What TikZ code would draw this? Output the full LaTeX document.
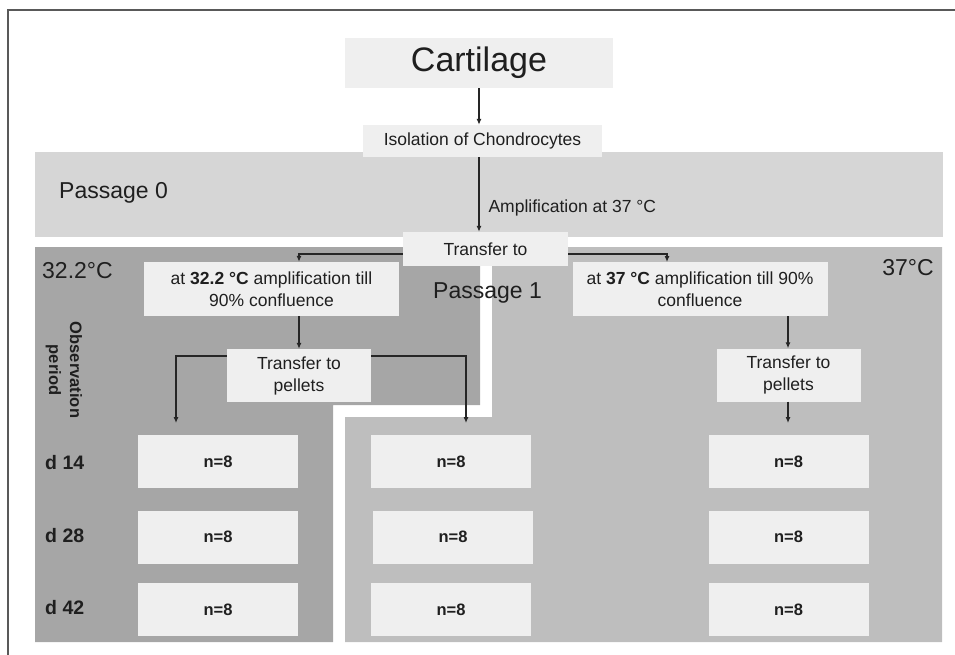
\documentclass[tikz,border=0pt]{standalone}
\usepackage{fontspec}
\setmainfont{Liberation Sans}
\usetikzlibrary{arrows.meta}
\definecolor{boxgrey}{HTML}{EFEFEF}
\definecolor{bandgrey}{HTML}{D6D6D6}
\definecolor{warmdark}{HTML}{A6A6A6}
\definecolor{warmlight}{HTML}{BEBEBE}
\newcommand{\cartfont}{\fontsize{34}{40}\selectfont}
\newcommand{\labfont}{\fontsize{23}{27}\selectfont}
\newcommand{\boxfont}{\fontsize{17.5}{22}\selectfont}
\newcommand{\dayfont}{\fontsize{19.5}{23}\selectfont\bfseries}
\newcommand{\nfont}{\fontsize{16.5}{20}\selectfont\bfseries}
\tikzstyle{blockstyle}=[fill=boxgrey, inner sep=0pt, align=center,
  text=black!88, font=\boxfont]
\tikzstyle{tempbox} = [blockstyle, minimum width=255pt, minimum height=54pt]
\tikzstyle{pelletbox} = [blockstyle, minimum width=144pt, minimum height=53pt]
\tikzstyle{nbox} = [blockstyle, minimum width=160pt, minimum height=53pt, font=\nfont]
\tikzstyle{label} = [inner sep=0pt, text=black!88, font=\boxfont]
\tikzset{
    line/.style={
        draw, line width=1.1pt, color=black!85,
        -{Latex[length=6pt,width=5pt]}}}
\newcommand{\sample}[1]{node (n#1) [nbox] {n=8}}

\begin{document}
\begin{tikzpicture}[x=1pt,y=-1pt]
\useasboundingbox (0,0) rectangle (955,655);
% Draw background panels
\fill[white] (35,28) rectangle (945,152);
\fill[bandgrey] (35,152) rectangle (943,237);
\fill[warmdark] (35,247) -- (480,247) -- (480,405) -- (333,405)
  -- (333,642) -- (35,642) -- cycle;
\fill[warmlight] (492,247) -- (942,247) -- (942,642) -- (345,642)
  -- (345,417) -- (492,417) -- cycle;
\draw[line width=1.5pt, color=black!65] (8,655) -- (8,10) -- (955,10);

% Draw region labels
\node (pass0) [label, anchor=west, font=\labfont] at (59,193) {Passage 0};
\node (pass1) [label, anchor=west, font=\labfont] at (433,293) {Passage 1};
\node (temp32) [label, anchor=west, font=\labfont] at (42,271) {32.2°C};
\node (temp37) [label, anchor=east, font=\labfont] at (934,268) {37°C};
\node (obs) [label, rotate=-90, align=center,
  font={\fontsize{16.5}{21}\selectfont\bfseries}] at (64,370) {Observation\\period};
\node (d14) [label, anchor=west, font=\dayfont] at (45,463) {d 14};
\node (d28) [label, anchor=west, font=\dayfont] at (45,536) {d 28};
\node (d42) [label, anchor=west, font=\dayfont] at (45,608) {d 42};

% Draw diagram elements
\path (479,63) node (cart) [blockstyle, minimum width=268pt,
  minimum height=50pt, font=\cartfont] {Cartilage};
\path (482.5,141) node (iso) [blockstyle, minimum width=239pt,
  minimum height=32pt] {Isolation of Chondrocytes};
\path (485.5,249) node (trans) [blockstyle, minimum width=165pt,
  minimum height=34pt] {Transfer to};
\path (271.5,289) node (b32) [tempbox] {at \textbf{32.2 °C} amplification till\\90\% confluence};
\path (700,289) node (b37) [tempbox] {at \textbf{37 °C} amplification till 90\%\\confluence};
\path (299,375.5) node (pel32) [pelletbox] {Transfer to\\pellets};
\path (788.5,375) node (pel37) [pelletbox] {Transfer to\\pellets};

\path (218,461.5) \sample{11};
\path (218,537)   \sample{12};
\path (218,609.5) \sample{13};
\path (451,461.5) \sample{21};
\path (453,537)   \sample{22};
\path (451,609.5) \sample{23};
\path (788.5,461.5) \sample{31};
\path (788.5,537)   \sample{32};
\path (788.5,609.5) \sample{33};

% Draw arrows between elements
\coordinate (in37) at (667,262);
\coordinate (e1) at (176,423);
\coordinate (e2) at (466,423);
\coordinate (e3) at (788,423);
\path [line] (cart.south) -- (cart.south |- iso.north);
\path [line] (cart.south |- iso.south) -- node [label, pos=0.68, anchor=west,
  xshift=9pt] (amp) {Amplification at 37 °C} (cart.south |- trans.north);
\path [line] ([yshift=-5pt]trans.west) -| (pel32.north |- b32.north);
\path [line] ([yshift=-5pt]trans.east) -| (in37);
\path [line] (pel32.north |- b32.south) -- (pel32.north);
\path [line] (e3 |- b37.south) -- (e3 |- pel37.north);
\path [line] ([yshift=19.5pt]pel32.west) -| (e1);
\path [line] ([yshift=19.5pt]pel32.east) -| (e2);
\path [line] (e3 |- pel37.south) -- (e3);
\end{tikzpicture}
\end{document}
